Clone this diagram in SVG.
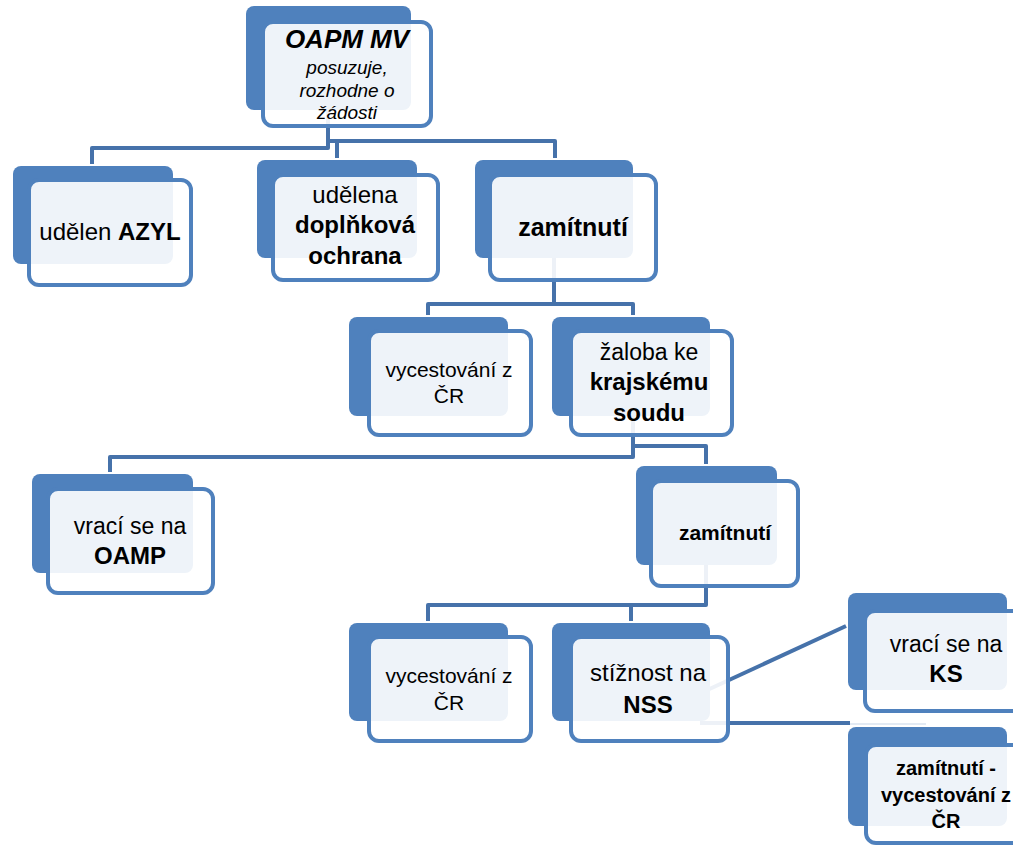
<svg xmlns="http://www.w3.org/2000/svg" width="1013" height="847" viewBox="0 0 1013 847">
<style>
.bg{fill:#ffffff}
.back{fill:#4F81BD}
.front{fill:#ffffff;fill-opacity:0.9;stroke:#4F81BD;stroke-width:4}
.conn{fill:none;stroke:#4672AA;stroke-width:4;stroke-linejoin:round}
text{font-family:"Liberation Sans",Arial,sans-serif;fill:#000000;text-anchor:middle}
.b{font-weight:bold}
</style>
<rect class="bg" x="0" y="0" width="1013" height="847"/>
<g id="connectors">
<path class="conn" d="M328,100 V148 H92 V164"/>
<path class="conn" d="M328,141 H555 V158"/>
<path class="conn" d="M337,141 V158"/>
<path class="conn" d="M554,240 V304 H428 V315"/>
<path class="conn" d="M554,304 H633 V315"/>
<path class="conn" d="M633,400 V457 H110 V472"/>
<path class="conn" d="M633,446 H706 V464"/>
<path class="conn" d="M706,550 V605 H428 V621"/>
<path class="conn" d="M631,605 V621"/>
<path class="conn" d="M690,698 L846,626"/>
<path class="conn" d="M700,723 H850"/>
<path d="M850,724 H926" fill="none" stroke="#E3EAF3" stroke-width="2"/>
</g>
<g id="n-oapm">
<rect class="back" x="246" y="6" width="165" height="104" rx="8"/>
<rect class="front" x="263" y="22" width="168" height="104" rx="10"/>
<text x="347" y="48" class="b" font-style="italic" font-size="26">OAPM MV</text>
<text x="347" y="74" font-style="italic" font-size="19">posuzuje,</text>
<text x="347" y="97" font-style="italic" font-size="19">rozhodne o</text>
<text x="347" y="119" font-style="italic" font-size="19">žádosti</text>
</g>
<g id="n-azyl">
<rect class="back" x="13" y="166" width="160" height="98" rx="8"/>
<rect class="front" x="29" y="180" width="162" height="105" rx="10"/>
<text x="110" y="240" font-size="24">udělen <tspan class="b">AZYL</tspan></text>
</g>
<g id="n-doplnkova">
<rect class="back" x="257" y="160" width="160" height="98" rx="8"/>
<rect class="front" x="273" y="175" width="165" height="105" rx="10"/>
<text x="355" y="203" font-size="24">udělena</text>
<text x="355" y="233" class="b" font-size="24">doplňková</text>
<text x="355" y="264" class="b" font-size="24">ochrana</text>
</g>
<g id="n-zamitnuti1">
<rect class="back" x="475" y="160" width="158" height="98" rx="8"/>
<rect class="front" x="490" y="175" width="166" height="105" rx="10"/>
<text x="573" y="236" class="b" font-size="25">zamítnutí</text>
</g>
<g id="n-vycestovani1">
<rect class="back" x="349" y="317" width="159" height="99" rx="8"/>
<rect class="front" x="369" y="331" width="162" height="104" rx="10"/>
<text x="449" y="377" font-size="21">vycestování z</text>
<text x="449" y="403" font-size="21">ČR</text>
</g>
<g id="n-zaloba">
<rect class="back" x="552" y="317" width="158" height="99" rx="8"/>
<rect class="front" x="571" y="331" width="161" height="104" rx="10"/>
<text x="649" y="360" font-size="23">žaloba ke</text>
<text x="649" y="390" class="b" font-size="24">krajskému</text>
<text x="649" y="421" class="b" font-size="24">soudu</text>
</g>
<g id="n-oamp">
<rect class="back" x="32" y="474" width="161" height="99" rx="8"/>
<rect class="front" x="48" y="489" width="165" height="104" rx="10"/>
<text x="130" y="534" font-size="23">vrací se na</text>
<text x="130" y="564" class="b" font-size="24">OAMP</text>
</g>
<g id="n-zamitnuti2">
<rect class="back" x="636" y="466" width="141" height="99" rx="8"/>
<rect class="front" x="651" y="481" width="147" height="105" rx="10"/>
<text x="725" y="540" class="b" font-size="21">zamítnutí</text>
</g>
<g id="n-vycestovani2">
<rect class="back" x="349" y="623" width="159" height="98" rx="8"/>
<rect class="front" x="369" y="637" width="162" height="104" rx="10"/>
<text x="449" y="683" font-size="21">vycestování z</text>
<text x="449" y="710" font-size="21">ČR</text>
</g>
<g id="n-nss">
<rect class="back" x="552" y="623" width="158" height="98" rx="8"/>
<rect class="front" x="571" y="637" width="157" height="104" rx="10"/>
<text x="648" y="681" font-size="24">stížnost na</text>
<text x="648" y="713" class="b" font-size="24">NSS</text>
</g>
<g id="n-ks">
<rect class="back" x="848" y="593" width="159" height="97" rx="8"/>
<rect class="front" x="865" y="611" width="162" height="100" rx="10"/>
<text x="946" y="652" font-size="23">vrací se na</text>
<text x="946" y="682" class="b" font-size="24">KS</text>
</g>
<g id="n-zamitnuti-vycestovani">
<rect class="back" x="848" y="727" width="159" height="99" rx="8"/>
<rect class="front" x="866" y="745" width="162" height="98" rx="10"/>
<text x="946" y="775" class="b" font-size="20">zamítnutí -</text>
<text x="946" y="802" class="b" font-size="20">vycestování z</text>
<text x="946" y="828" class="b" font-size="20">ČR</text>
</g>
</svg>
